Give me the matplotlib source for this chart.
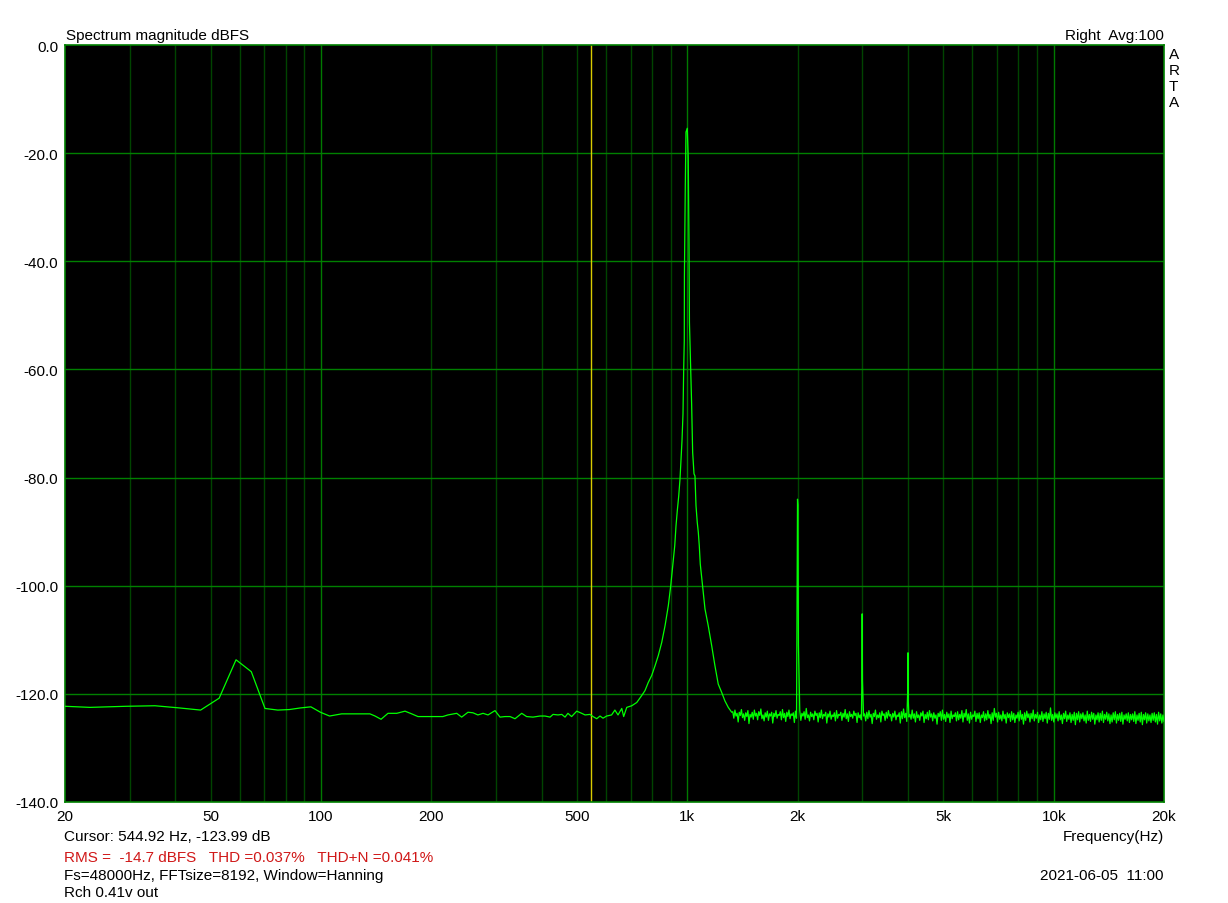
import numpy as np
import matplotlib
matplotlib.use("Agg")
import matplotlib.pyplot as plt

plt.rcParams['font.family'] = ['Liberation Sans', 'DejaVu Sans']

# spectrum below the noise floor region (Hz, dBFS) incl. 50/60 Hz hum and the 1 kHz tone
base_freq = [20.0, 23.4, 29.3, 35.2, 41.0, 46.9, 52.7, 58.6, 64.5, 70.3, 76.2, 82.0, 87.9, 93.8,
             99.6, 105.5, 113.8, 136.0, 140.4, 145.8, 152.3, 160.9, 169.5, 176.8, 183.9, 202.0,
             215.0, 222.0, 234.6, 242.0, 251.8, 259.8, 268.0, 276.8, 285.6, 298.4, 308.0, 317.8,
             328.0, 338.4, 353.0, 364.0, 379.0, 396.0, 408.6, 421.8, 429.8, 443.6, 454.0, 463.4,
             472.0, 483.0, 498.8, 514.6, 525.6, 542.0, 552.6, 565.6, 577.4, 588.4, 602.0, 621.0,
             634.0, 646.6, 662.0, 670.0, 683.0, 704.8, 727.4, 750.6, 766.0, 782.0, 799.0, 816.0,
             833.0, 851.0, 869.0, 887.0, 900.6, 915.4, 923.6, 931.0, 938.6, 947.0, 954.6, 960.6,
             966.6, 972.8, 977.0, 980.6, 981.5, 986.8, 991.2, 999.2, 1005.4, 1010.0, 1013.0,
             1020.8, 1027.0, 1033.6, 1042.4, 1048.8, 1055.6, 1064.0, 1071.0, 1077.6, 1084.4,
             1098.0, 1117.0, 1140.0, 1165.0, 1189.0, 1214.0, 1240.0, 1266.0, 1293.0, 1321.0]
base_db = [-122.3, -122.5, -122.3, -122.2, -122.6, -123.0, -120.8, -113.7, -115.9, -122.7, -123.0,
           -122.9, -122.6, -122.4, -123.4, -124.1, -123.7, -123.7, -124.1, -124.7, -123.6, -123.6,
           -123.2, -123.7, -124.2, -124.2, -124.2, -123.9, -123.6, -124.3, -123.4, -123.5, -123.9,
           -123.6, -123.9, -123.1, -124.3, -124.2, -124.2, -124.6, -123.6, -124.2, -124.3, -124.1,
           -124.1, -124.3, -123.8, -123.9, -123.8, -124.3, -123.6, -124.2, -123.2, -123.6, -123.9,
           -123.8, -124.2, -124.6, -124.1, -124.5, -124.1, -123.9, -123.0, -123.9, -122.7, -124.2,
           -122.5, -122.2, -121.6, -120.3, -119.4, -117.9, -116.6, -114.8, -112.9, -110.5, -107.4,
           -103.7, -100.0, -95.1, -92.6, -88.9, -86.1, -83.4, -80.3, -76.9, -73.2, -68.2, -59.9,
           -54.7, -42.7, -26.3, -16.1, -15.4, -20.8, -36.2, -51.3, -59.9, -66.4, -75.3, -79.3,
           -79.7, -85.2, -88.3, -90.1, -92.6, -96.0, -99.5, -104.3, -107.4, -111.1, -114.8,
           -118.2, -119.7, -121.3, -122.5, -123.4]

# harmonics (FFT bins around 2k, 3k, 4k)
harm_freq = [1992.2, 1998.0, 2003.9, 2009.8, 2994.1, 3000.0, 3005.9, 3996.1, 4001.9, 4007.8]
harm_db = [-104.6, -84.0, -85.1, -111.0, -117.3, -105.2, -117.5, -118.9, -112.4, -121.0]

# noise floor 1.33k .. 20k, one value per screen column
noise_start, noise_stop = 1330.0, 20000.0
noise_db = [
    -123.3, -124.5, -123.0, -124.1, -123.6, -125.2, -123.4, -124.0, -122.9, -124.4,
    -123.7, -124.9, -123.5, -124.2, -123.1, -125.5, -123.8, -124.3, -123.4, -124.7,
    -123.0, -124.1, -123.6, -124.8, -123.3, -124.0, -122.8, -124.6, -123.9, -125.0,
    -123.5, -124.3, -123.2, -124.9, -123.7, -124.1, -123.4, -125.4, -123.6, -124.2,
    -123.1, -124.5, -123.8, -124.0, -123.3, -124.8, -122.9, -124.4, -123.6, -125.1,
    -123.4, -124.2, -123.0, -124.6, -123.7, -124.0, -123.5, -125.3, -123.2, -124.5,
    -123.8, -124.3, -123.1, -124.9, -123.6, -124.1, -123.3, -124.7, -122.7, -124.4,
    -123.9, -125.0, -123.4, -124.2, -123.7, -124.8, -123.2, -124.0, -123.6, -125.2,
    -123.5, -124.4, -123.0, -124.6, -123.8, -124.1, -123.4, -125.4, -123.7, -124.3,
    -123.2, -124.7, -123.9, -124.2, -123.5, -125.0, -123.1, -124.5, -123.8, -124.0,
    -123.4, -124.9, -123.6, -124.3, -122.9, -124.6, -123.7, -125.1, -123.3, -124.2,
    -123.8, -124.5, -123.2, -124.0, -123.6, -125.3, -123.5, -124.4, -123.9, -124.8,
    -123.3, -124.1, -123.7, -125.0, -123.4, -124.6, -123.1, -124.3, -123.8, -125.5,
    -123.6, -124.2, -123.0, -124.7, -123.9, -124.4, -123.5, -125.2, -123.2, -124.0,
    -123.7, -124.9, -123.4, -124.5, -123.1, -124.1, -123.8, -125.0, -123.6, -124.3,
    -123.2, -124.8, -123.9, -124.2, -123.5, -125.4, -123.3, -124.6, -122.8, -124.4,
    -123.6, -125.1, -123.4, -124.3, -123.8, -124.7, -123.0, -124.5, -123.7, -125.2,
    -123.3, -124.4, -123.9, -124.9, -123.5, -124.1, -123.2, -125.3, -123.8, -124.6,
    -123.4, -124.8, -123.1, -124.3, -123.7, -125.0, -123.5, -124.5, -123.9, -125.6,
    -123.6, -124.2, -123.3, -124.9, -123.0, -124.7, -123.8, -125.1, -123.4, -124.4,
    -123.7, -125.3, -123.2, -124.6, -123.9, -124.2, -123.5, -125.0, -123.3, -124.8,
    -123.8, -124.5, -123.1, -125.2, -123.6, -124.3, -122.9, -124.9, -123.7, -125.4,
    -123.4, -124.7, -123.9, -124.2, -123.2, -125.1, -123.6, -124.6, -123.5, -125.3,
    -123.9, -124.4, -123.3, -125.0, -123.7, -124.8, -123.1, -124.5, -123.8, -125.5,
    -123.5, -124.9, -122.7, -124.3, -123.6, -125.2, -123.4, -124.7, -123.9, -125.0,
    -123.2, -124.6, -123.8, -125.4, -123.5, -124.4, -123.7, -125.1, -123.3, -124.8,
    -123.6, -125.3, -123.9, -124.5, -123.4, -125.0, -123.1, -124.7, -123.8, -125.6,
    -123.5, -124.9, -123.2, -124.4, -123.7, -125.2, -123.6, -124.6, -123.0, -125.0,
    -123.8, -124.5, -123.4, -125.3, -123.9, -124.8, -123.3, -125.1, -123.7, -124.6,
    -123.4, -125.4, -123.6, -124.7, -122.6, -124.9, -123.8, -125.2, -123.5, -124.5,
    -123.7, -125.0, -123.3, -124.8, -123.9, -125.5, -123.6, -124.6, -123.2, -125.1,
    -123.9, -124.7, -123.5, -125.3, -123.8, -124.9, -123.4, -125.7, -123.6, -124.8,
    -123.3, -125.2, -123.7, -124.6, -123.5, -125.0, -123.9, -125.4, -123.2, -124.9,
    -123.8, -125.1, -123.4, -124.7, -123.6, -125.6, -123.9, -124.8, -123.5, -125.2,
    -123.6, -124.9, -123.2, -125.3, -123.8, -124.7, -123.4, -125.0, -123.7, -125.5,
    -123.9, -125.2, -123.5, -124.8, -123.3, -125.4, -123.8, -124.9, -123.6, -125.1,
    -123.4, -125.6, -123.9, -124.7, -123.7, -125.0, -123.5, -125.3, -123.8, -124.8,
    -123.7, -125.1, -123.3, -125.5, -123.9, -124.9, -123.6, -125.2, -123.4, -125.7,
    -123.8, -124.8, -123.5, -125.4, -123.7, -125.0, -123.9, -125.3, -123.6, -124.9,
    -123.5, -125.2, -123.8, -125.6, -123.4, -125.0, -123.7, -125.4, -123.9, -125.1,
]

cursor_freq = 544.92
tick_freqs = [20, 50, 100, 200, 500, 1000, 2000, 5000, 10000, 20000]
tick_labels = ['20', '50', '100', '200', '500', '1k', '2k', '5k', '10k', '20k']
db_ticks = [0, -20, -40, -60, -80, -100, -120, -140]

# merge everything into one trace
noise_freq = np.geomspace(noise_start, noise_stop, len(noise_db))
noise_db = np.array(noise_db)
keep = np.ones(len(noise_freq), dtype=bool)
for lo, hi in [(1988, 2014), (2990, 3010), (3992, 4012)]:
    keep &= ~((noise_freq > lo) & (noise_freq < hi))
freq = np.concatenate([base_freq, harm_freq, noise_freq[keep]])
mag = np.concatenate([base_db, harm_db, noise_db[keep]])
order = np.argsort(freq)
freq, mag = freq[order], mag[order]

W, H = 1228, 904
fig = plt.figure(figsize=(W / 100, H / 100), dpi=100)
ax = fig.add_axes([65 / W, 1 - 803 / H, (1164 - 65) / W, (803 - 46) / H])
ax.set_facecolor('black')
ax.set_xscale('log')
ax.set_xlim(20, 20000)
ax.set_ylim(-140, 0)

# grid
for dec in [10, 100, 1000, 10000]:
    for m in range(1, 10):
        f = dec * m
        if f <= 20 or f >= 20000:
            continue
        col = '#007a00' if m == 1 else '#004400'
        ax.axvline(f, color=col, lw=1, zorder=1)
for d in db_ticks[1:-1]:
    ax.axhline(d, color='#008000', lw=1, zorder=1)

ax.axvline(cursor_freq, color='#d8cc00', lw=1, zorder=2)
ax.plot(freq, mag, color='#00ff00', lw=0.9, zorder=3)

for s in ax.spines.values():
    s.set_color('#008000')
    s.set_linewidth(1.2)

ax.set_xticks(tick_freqs)
ax.set_xticklabels(tick_labels)
ax.xaxis.set_minor_locator(matplotlib.ticker.NullLocator())
ax.set_yticks(db_ticks)
ax.set_yticklabels(['%.1f' % d for d in db_ticks])
ax.tick_params(length=0, labelsize=11, pad=5)

fs = 11
fig.text(66 / W, 1 - 40 / H, 'Spectrum magnitude dBFS', fontsize=fs, va='baseline')
fig.text(1164 / W, 1 - 40 / H, 'Right  Avg:100', fontsize=fs, va='baseline', ha='right')
for i, ch in enumerate('ARTA'):
    fig.text(1169 / W, 1 - (59 + 16 * i) / H, ch, fontsize=fs, va='baseline')
fig.text(1164 / W, 1 - 841 / H, 'Frequency(Hz)', fontsize=fs, va='baseline', ha='right')
fig.text(64 / W, 1 - 841 / H, 'Cursor: 544.92 Hz, -123.99 dB', fontsize=fs, va='baseline')
fig.text(64 / W, 1 - 862 / H, 'RMS =  -14.7 dBFS   THD =0.037%   THD+N =0.041%',
         fontsize=fs, va='baseline', color='#d01818')
fig.text(64 / W, 1 - 880 / H, 'Fs=48000Hz, FFTsize=8192, Window=Hanning', fontsize=fs, va='baseline')
fig.text(1164 / W, 1 - 880 / H, '2021-06-05  11:00', fontsize=fs, va='baseline', ha='right')
fig.text(64 / W, 1 - 897 / H, 'Rch 0.41v out', fontsize=fs, va='baseline')

fig.savefig('out.png', dpi=100, facecolor='white')
